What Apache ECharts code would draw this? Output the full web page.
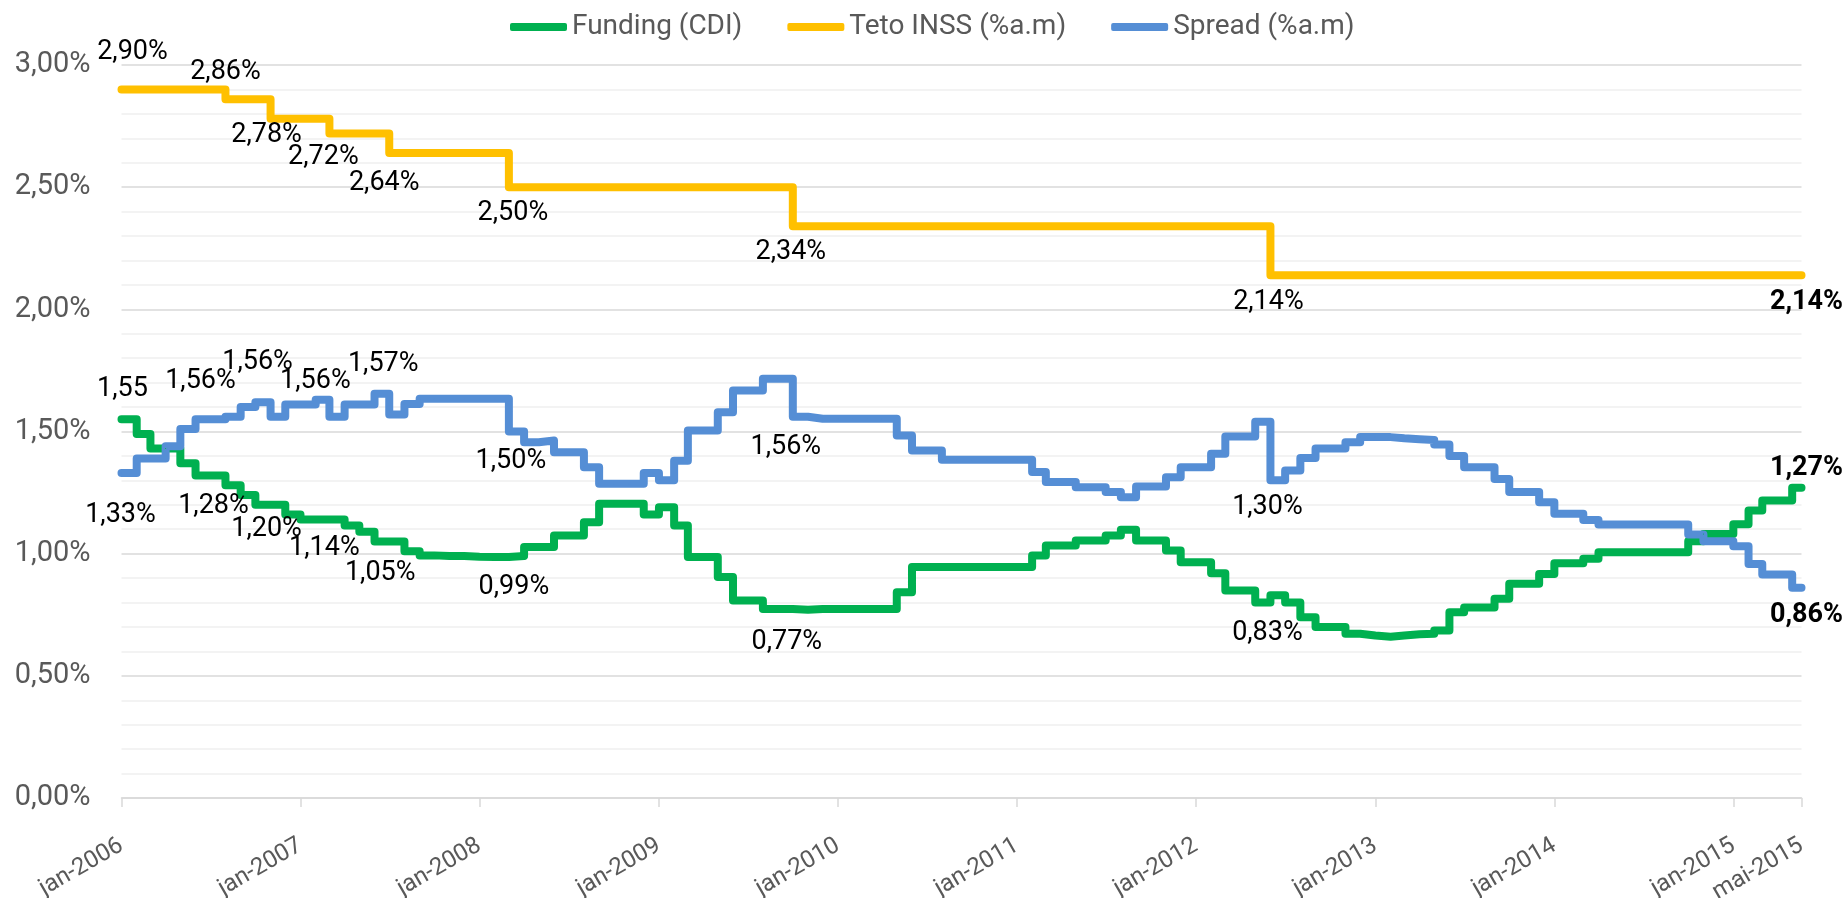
<!DOCTYPE html>
<html>
<head>
<meta charset="utf-8">
<title>Funding x Teto INSS x Spread</title>
<script src="https://cdn.jsdelivr.net/npm/echarts@6/dist/echarts.min.js"></script>
<style>
  html, body { margin: 0; padding: 0; background: #fff; }
  #chart { width: 1847px; height: 898px; }
</style>
</head>
<body>
<div id="chart"></div>
<script>
// monthly readings, jan-2006 .. mai-2015 (% a.m.)
var funding = [
  1.55, 1.49, 1.43, 1.43, 1.37, 1.32, 1.32, 1.28, 1.24, 1.20, 1.20, 1.16,
  1.14, 1.14, 1.14, 1.115, 1.09, 1.05, 1.05, 1.01, 0.993, 0.99, 0.99, 0.987,
  0.986, 0.986, 0.99, 1.027, 1.027, 1.074, 1.074, 1.129, 1.204, 1.204, 1.204, 1.16,
  1.19, 1.115, 0.986, 0.986, 0.904, 0.808, 0.808, 0.774, 0.774, 0.77, 0.774, 0.774,
  0.774, 0.774, 0.774, 0.774, 0.842, 0.945, 0.945, 0.945, 0.945, 0.945, 0.945, 0.945,
  0.945, 0.993, 1.033, 1.033, 1.054, 1.054, 1.074, 1.098, 1.054, 1.054, 1.013, 0.965,
  0.965, 0.92, 0.849, 0.849, 0.80, 0.83, 0.80, 0.74, 0.70, 0.70, 0.672, 0.665,
  0.66, 0.665, 0.67, 0.672, 0.686, 0.76, 0.78, 0.78, 0.815, 0.877, 0.877, 0.917,
  0.961, 0.961, 0.979, 1.006, 1.006, 1.006, 1.006, 1.006, 1.006, 1.051, 1.081, 1.081,
  1.12, 1.177, 1.218, 1.218, 1.27
];
var teto = [
  2.90, 2.90, 2.90, 2.90, 2.90, 2.90, 2.90, 2.86, 2.86, 2.86, 2.78, 2.78,
  2.78, 2.78, 2.72, 2.72, 2.72, 2.72, 2.64, 2.64, 2.64, 2.64, 2.64, 2.64,
  2.64, 2.64, 2.50, 2.50, 2.50, 2.50, 2.50, 2.50, 2.50, 2.50, 2.50, 2.50,
  2.50, 2.50, 2.50, 2.50, 2.50, 2.50, 2.50, 2.50, 2.50, 2.34, 2.34, 2.34,
  2.34, 2.34, 2.34, 2.34, 2.34, 2.34, 2.34, 2.34, 2.34, 2.34, 2.34, 2.34,
  2.34, 2.34, 2.34, 2.34, 2.34, 2.34, 2.34, 2.34, 2.34, 2.34, 2.34, 2.34,
  2.34, 2.34, 2.34, 2.34, 2.34, 2.14, 2.14, 2.14, 2.14, 2.14, 2.14, 2.14,
  2.14, 2.14, 2.14, 2.14, 2.14, 2.14, 2.14, 2.14, 2.14, 2.14, 2.14, 2.14,
  2.14, 2.14, 2.14, 2.14, 2.14, 2.14, 2.14, 2.14, 2.14, 2.14, 2.14, 2.14,
  2.14, 2.14, 2.14, 2.14, 2.14
];
var spread = [
  1.33, 1.39, 1.39, 1.44, 1.51, 1.55, 1.55, 1.56, 1.60, 1.62, 1.56, 1.61,
  1.61, 1.63, 1.56, 1.61, 1.61, 1.655, 1.57, 1.613, 1.634, 1.634, 1.634, 1.634,
  1.634, 1.634, 1.50, 1.456, 1.463, 1.415, 1.415, 1.354, 1.286, 1.286, 1.286, 1.33,
  1.30, 1.38, 1.504, 1.504, 1.579, 1.668, 1.668, 1.716, 1.716, 1.56, 1.552, 1.552,
  1.552, 1.552, 1.552, 1.552, 1.484, 1.422, 1.422, 1.384, 1.384, 1.384, 1.384, 1.384,
  1.384, 1.334, 1.293, 1.293, 1.272, 1.272, 1.252, 1.231, 1.275, 1.275, 1.313, 1.354,
  1.354, 1.409, 1.48, 1.48, 1.54, 1.30, 1.34, 1.392, 1.43, 1.43, 1.456, 1.477,
  1.477, 1.472, 1.468, 1.465, 1.447, 1.40, 1.354, 1.354, 1.306, 1.252, 1.252, 1.21,
  1.163, 1.163, 1.138, 1.119, 1.119, 1.119, 1.119, 1.119, 1.119, 1.078, 1.051, 1.051,
  1.03, 0.958, 0.915, 0.915, 0.86
];
var seriesNames = ['Funding (CDI)', 'Teto INSS (%a.m)', 'Spread (%a.m)'];
var meses = ['jan', 'fev', 'mar', 'abr', 'mai', 'jun', 'jul', 'ago', 'set', 'out', 'nov', 'dez'];
var tickYears = [2006, 2007, 2008, 2009, 2010, 2011, 2012, 2013, 2014, 2015];

var FONT = 'Roboto, "Open Sans", sans-serif';
var axisStart = new Date(2006, 0, 1).getTime();
var axisEnd = new Date(2015, 4, 20).getTime();

var dates = [];
for (var i = 0; i < funding.length; i++) {
  dates.push(new Date(2006, i, 1).getTime());
}
var tickValues = tickYears.map(function (y) { return new Date(y, 0, 1).getTime(); });
tickValues.push(axisEnd);

// label placement: index -> [dx, dy, bold, hidePct]  ('end' = last point)
var tetoLabels = {
  0: [11, -37], 7: [0, -27], 10: [-4, 16], 14: [-6, 24], 18: [-5, 30],
  26: [4, 26], 45: [-2, 26], 77: [-2, 27], end: [5, 27, true]
};
var spreadLabels = {
  0: [-1, 42], 7: [-25, -36], 10: [-13, -55], 14: [-14, -36], 18: [-6, -50],
  26: [2, 30], 45: [-7, 30], 77: [-3, 27], end: [5, 27, true]
};
var fundingLabels = {
  0: [1, -30, false, true], 7: [-12, 21], 10: [-4, 24], 14: [-5, 29], 18: [-9, 32],
  26: [5, 31], 45: [-6, 32], 77: [-3, 38], end: [5, -19, true]
};

function fmt(v, pct) {
  return v.toFixed(2).replace('.', ',') + (pct ? '%' : '');
}

function buildData(values, labels) {
  var items = values.map(function (v, i) { return { value: [dates[i], v] }; });
  // carry the last step to the end of the axis
  items.push({ value: [axisEnd, values[values.length - 1]] });
  Object.keys(labels).forEach(function (k) {
    var c = labels[k];
    var idx = k === 'end' ? items.length - 1 : +k;
    var txt = fmt(items[idx].value[1], !c[3]);
    items[idx].label = {
      show: true,
      position: 'inside',
      offset: [c[0], c[1]],
      color: '#000',
      textBorderWidth: 0,
      fontSize: 27,
      fontFamily: FONT,
      fontWeight: c[2] ? 'bold' : 'normal',
      formatter: function () { return txt; }
    };
  });
  return items;
}

function lineSeries(name, color, values, labels) {
  return {
    name: name,
    type: 'line',
    step: 'end',
    data: buildData(values, labels),
    symbol: 'circle',
    symbolSize: 1,
    showSymbol: true,
    clip: false,
    itemStyle: { color: color },
    lineStyle: { color: color, width: 8, join: 'round', cap: 'round' },
    emphasis: { disabled: true },
    animation: false
  };
}

var chart = echarts.init(document.getElementById('chart'));
chart.setOption({
  backgroundColor: '#fff',
  animation: false,
  legend: {
    left: 510,
    top: 13,
    padding: 0,
    icon: 'roundRect',
    itemWidth: 57,
    itemHeight: 8,
    itemGap: 45,
    data: seriesNames,
    textStyle: { fontSize: 28, color: '#595959', fontFamily: FONT }
  },
  grid: {
    left: 121.5,
    right: 45.5,
    top: 65,
    bottom: 100,
    outerBoundsMode: 'none'
  },
  xAxis: {
    type: 'value',
    min: axisStart,
    max: axisEnd,
    axisLine: { show: true, lineStyle: { color: '#d9d9d9', width: 1.5 } },
    axisTick: { show: true, length: 9, customValues: tickValues, lineStyle: { color: '#d9d9d9', width: 1.5 } },
    splitLine: { show: false },
    axisLabel: {
      customValues: tickValues,
      rotate: 30,
      margin: 46,
      fontSize: 24,
      color: '#595959',
      fontFamily: FONT,
      hideOverlap: false,
      showMinLabel: true,
      showMaxLabel: true,
      formatter: function (v) {
        var d = new Date(v);
        return meses[d.getMonth()] + '-' + d.getFullYear();
      }
    }
  },
  yAxis: {
    type: 'value',
    min: 0,
    max: 3,
    interval: 0.5,
    axisLine: { show: false },
    axisTick: { show: false },
    axisLabel: {
      margin: 31,
      fontSize: 29,
      color: '#595959',
      fontFamily: FONT,
      formatter: function (v) { return fmt(v, true); }
    },
    splitLine: { lineStyle: { color: '#d9d9d9', width: 1.5 } },
    minorTick: { show: false, splitNumber: 5 },
    minorSplitLine: { show: true, lineStyle: { color: '#f0f0f0', width: 1.5 } }
  },
  series: [
    lineSeries(seriesNames[0], '#00b050', funding, fundingLabels),
    lineSeries(seriesNames[1], '#ffc000', teto, tetoLabels),
    lineSeries(seriesNames[2], '#558ed5', spread, spreadLabels)
  ]
});
</script>
</body>
</html>
